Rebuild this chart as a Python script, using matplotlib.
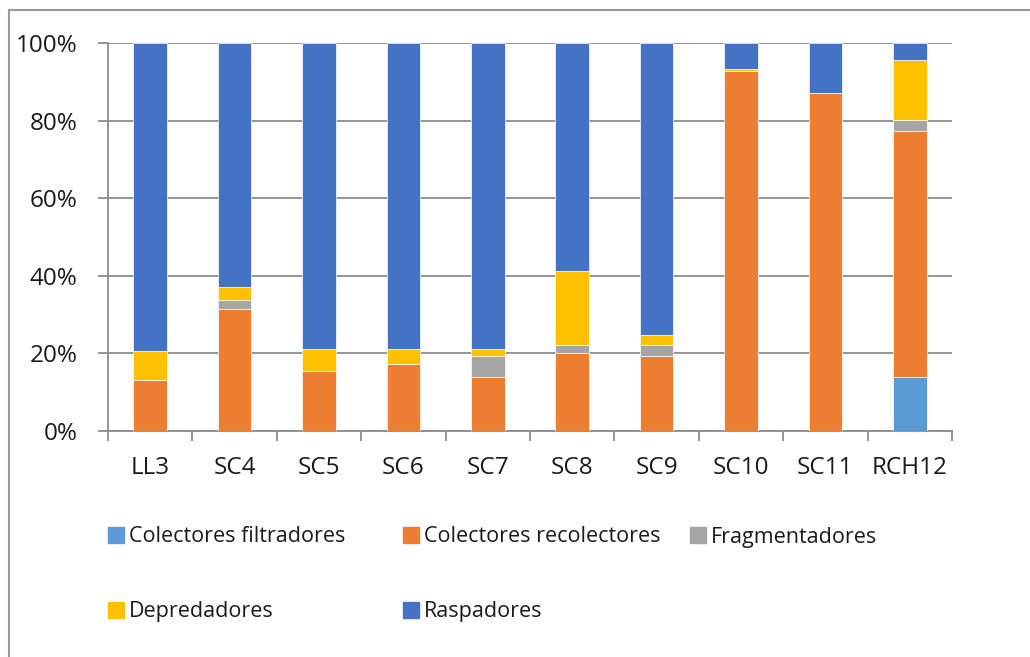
import matplotlib
matplotlib.use("Agg")
from matplotlib import pyplot as plt
from matplotlib.patches import Rectangle
from matplotlib.lines import Line2D
import numpy as np

sites = ["LL3", "SC4", "SC5", "SC6", "SC7", "SC8", "SC9", "SC10", "SC11", "RCH12"]
filtradores = [0, 0, 0, 0, 0, 0, 0, 0, 0, 13.8]
recolectores = [13.2, 31.4, 15.5, 17.2, 13.8, 20.0, 19.4, 92.8, 87.1, 63.6]
fragmentadores = [0, 2.3, 0, 0, 5.6, 2.2, 2.8, 0, 0, 2.8]
depredadores = [7.5, 3.4, 5.6, 3.9, 1.7, 19.0, 2.5, 0.5, 0, 15.5]
raspadores = [79.3, 62.9, 78.9, 78.9, 78.9, 58.8, 75.3, 6.7, 12.9, 4.3]

series = [
  ("Colectores filtradores", filtradores, "#5B9BD5"),
  ("Colectores recolectores", recolectores, "#ED7D31"),
  ("Fragmentadores", fragmentadores, "#A5A5A5"),
  ("Depredadores", depredadores, "#FFC000"),
  ("Raspadores", raspadores, "#4472C4"),
]

plt.rcParams['font.family'] = ['Open Sans', 'DejaVu Sans']
GRID = "#8c8c8c"
TEXT = "#1a1a1a"

fig = plt.figure(figsize=(10.3, 6.57), dpi=100)
ax = fig.add_axes([108/1030, 1 - 431/657, (952 - 108)/1030, (431 - 43)/657])

x = np.arange(len(sites))
bottom = np.zeros(len(sites))
for name, vals, color in series:
  vals = np.array(vals, dtype=float)
  ax.bar(x, vals, 0.4, bottom=bottom, color=color, edgecolor="white",
         linewidth=0.5, zorder=3)
  bottom += vals

ax.set_xlim(-0.5, len(sites) - 0.5)
ax.set_ylim(0, 100)
ax.set_yticks(range(0, 101, 20))
ax.set_yticklabels([f"{v}%" for v in range(0, 101, 20)])
ax.yaxis.grid(True, color=GRID, linewidth=1.3, zorder=0)

ax.set_xticks(np.arange(-0.5, len(sites), 1.0))
ax.set_xticklabels([])
ax.set_xticks(x, minor=True)
ax.set_xticklabels(sites, minor=True)
ax.tick_params(axis="x", which="major", length=7, width=1.3, color=GRID, direction="out")
ax.tick_params(axis="x", which="minor", length=0, pad=18, labelsize=17.5, labelcolor=TEXT)
ax.tick_params(axis="y", length=7, width=1.3, color=GRID, pad=15, labelsize=17.5,
               labelcolor=TEXT)

for side in ["top", "right"]:
  ax.spines[side].set_visible(False)
for side in ["left", "bottom"]:
  ax.spines[side].set_color(GRID)
  ax.spines[side].set_linewidth(1.3)

# legend, laid out like the spreadsheet one
legend_pos = [(108, 535), (403, 535), (690, 535), (108, 610), (403, 610)]
for (name, vals, color), (px, py) in zip(series, legend_pos):
  fig.patches.append(Rectangle((px/1030, 1 - (py + 8)/657), 16/1030, 16/657,
                               color=color, transform=fig.transFigure))
  fig.text((px + 21)/1030, 1 - (py + 2)/657, name, fontsize=15.5, va="center",
           color=TEXT)

# chart-area frame
fig.add_artist(Line2D([9/1030, 9/1030], [0, 1 - 10/657], color="#999999",
                      linewidth=1.5, transform=fig.transFigure))
fig.add_artist(Line2D([9/1030, 1], [1 - 10/657, 1 - 10/657], color="#999999",
                      linewidth=1.5, transform=fig.transFigure))

fig.savefig("out.png", dpi=100)
